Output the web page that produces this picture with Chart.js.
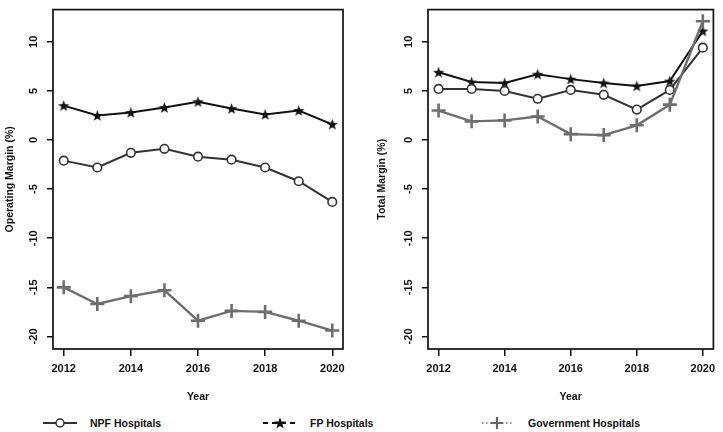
<!DOCTYPE html>
<html>
<head>
<meta charset="utf-8">
<script src="https://cdn.jsdelivr.net/npm/chart.js@4"></script>
<style>
  body { margin: 0; background: #fff; width: 723px; height: 432px; position: relative; overflow: hidden;
         font-family: "Liberation Sans", Arial, sans-serif; }
  canvas { position: absolute; top: 0; }
  #left { left: 0; }
  #right { left: 360px; }
  .leg { position: absolute; top: 416px; height: 14px; font-weight: bold; font-size: 10.5px; color: #111; line-height: 14px; }
  .leg svg { position: absolute; top: 0; }
</style>
</head>
<body>
<canvas id="left" width="360" height="410"></canvas>
<canvas id="right" width="363" height="410"></canvas>

<div class="leg" style="left:43px;width:140px">
  <svg width="34" height="14"><line x1="0" y1="7" x2="34" y2="7" stroke="#333" stroke-width="1.8"/><circle cx="17" cy="7" r="4" fill="#fff" stroke="#333" stroke-width="1.5"/></svg>
  <span style="position:absolute;left:47px">NPF Hospitals</span>
</div>
<div class="leg" style="left:263px;width:140px">
  <svg width="34" height="14"><line x1="0" y1="7" x2="34" y2="7" stroke="#111" stroke-width="1.8" stroke-dasharray="5,4"/><polygon id="legStar" fill="#111"/></svg>
  <span style="position:absolute;left:47px">FP Hospitals</span>
</div>
<div class="leg" style="left:482px;width:180px">
  <svg width="32" height="14"><line x1="0" y1="7" x2="32" y2="7" stroke="#777" stroke-width="1.4" stroke-dasharray="1.5,2.5"/><path d="M15 1 V13 M9 7 H21" stroke="#666" stroke-width="2.2"/></svg>
  <span style="position:absolute;left:46px">Government Hospitals</span>
</div>

<script>
const years = [2012, 2013, 2014, 2015, 2016, 2017, 2018, 2019, 2020];
const xTicks = [2012, 2014, 2016, 2018, 2020];
const yTicks = [-20, -15, -10, -5, 0, 5, 10];

// operating margin (%)
const opNPF = [-2.1, -2.8, -1.3, -0.9, -1.7, -2.0, -2.8, -4.2, -6.3];
const opFP  = [3.5, 2.5, 2.8, 3.3, 3.9, 3.2, 2.6, 3.0, 1.6];
const opGov = [-15.0, -16.7, -15.9, -15.3, -18.4, -17.4, -17.5, -18.4, -19.4];

// total margin (%)
const totNPF = [5.2, 5.2, 5.0, 4.2, 5.1, 4.6, 3.1, 5.1, 9.4];
const totFP  = [6.9, 5.9, 5.8, 6.7, 6.2, 5.8, 5.5, 6.0, 11.1];
const totGov = [3.0, 1.9, 2.0, 2.4, 0.6, 0.5, 1.5, 3.6, 12.1];

function starPoints(cx, cy, ro, ri) {
    let pts = [];
    for (let i = 0; i < 10; i++) {
        const r = i % 2 ? ri : ro;
        const a = -Math.PI / 2 + i * Math.PI / 5;
        pts.push([cx + r * Math.cos(a), cy + r * Math.sin(a)]);
    }
    return pts;
}

// filled star marker
const starImg = document.createElement('canvas');
starImg.width = 13; starImg.height = 13;
(function () {
    const c = starImg.getContext('2d');
    c.fillStyle = '#111';
    c.beginPath();
    starPoints(6.5, 7, 6, 2.4).forEach((p, i) => i ? c.lineTo(p[0], p[1]) : c.moveTo(p[0], p[1]));
    c.closePath();
    c.fill();
})();
document.getElementById('legStar').setAttribute('points',
    starPoints(17, 7.5, 6.2, 2.5).map(p => p.join(',')).join(' '));

const boxPlugin = {
    id: 'box',
    afterDraw(chart) {
        const {ctx, chartArea: a} = chart;
        ctx.save();
        ctx.strokeStyle = '#111';
        ctx.lineWidth = 1.7;
        ctx.strokeRect(a.left, a.top, a.right - a.left, a.bottom - a.top);
        // rotated y tick labels, R style
        const y = chart.scales.y;
        ctx.fillStyle = '#111';
        ctx.font = 'bold 11px "Liberation Sans", Arial, sans-serif';
        ctx.textAlign = 'center';
        ctx.textBaseline = 'middle';
        y.ticks.forEach(t => {
            ctx.save();
            ctx.translate(a.left - 19, y.getPixelForValue(t.value));
            ctx.rotate(-Math.PI / 2);
            ctx.fillText(String(t.value), 0, 0);
            ctx.restore();
        });
        ctx.restore();
    }
};

function toXY(vals) {
    return vals.map((v, i) => ({x: years[i], y: v}));
}

function makeChart(id, yTitle, npf, fp, gov, yWidth, titlePad, padRight) {
    return new Chart(document.getElementById(id), {
        type: 'line',
        data: {
            datasets: [{
                label: 'Government Hospitals',
                data: toXY(gov),
                borderColor: '#6e6e6e',
                borderWidth: 2.4,
                pointStyle: 'cross',
                pointRadius: 7,
                pointBorderColor: '#6e6e6e',
                pointBorderWidth: 2.6,
                tension: 0
            }, {
                label: 'NPF Hospitals',
                data: toXY(npf),
                borderColor: '#333',
                borderWidth: 2,
                pointStyle: 'circle',
                pointRadius: 4.3,
                pointBackgroundColor: '#fff',
                pointBorderColor: '#333',
                pointBorderWidth: 1.6,
                tension: 0
            }, {
                label: 'FP Hospitals',
                data: toXY(fp),
                borderColor: '#111',
                borderWidth: 2,
                pointStyle: starImg,
                tension: 0
            }]
        },
        options: {
            responsive: false,
            animation: false,
            devicePixelRatio: 1,
            clip: false,
            layout: { padding: { top: 5, right: padRight, left: 0, bottom: 0 } },
            plugins: { legend: { display: false }, tooltip: { enabled: false } },
            scales: {
                x: {
                    type: 'linear',
                    min: 2011.68,
                    max: 2020.32,
                    afterBuildTicks: (s) => { s.ticks = xTicks.map(v => ({value: v})); },
                    afterFit: (s) => { s.height = 61; },
                    border: { display: false },
                    grid: { drawOnChartArea: false, drawTicks: true, tickLength: 7, color: '#111', lineWidth: 1.5 },
                    ticks: {
                        color: '#111',
                        padding: 6,
                        maxRotation: 0,
                        font: { family: '"Liberation Sans", Arial, sans-serif', size: 11, weight: 'bold' },
                        callback: (v) => String(v)
                    },
                    title: {
                        display: true,
                        text: 'Year',
                        color: '#111',
                        padding: { top: 0, bottom: 7 },
                        font: { family: '"Liberation Sans", Arial, sans-serif', size: 10.5, weight: 'bold' }
                    }
                },
                y: {
                    min: -21.28,
                    max: 13.28,
                    afterBuildTicks: (s) => { s.ticks = yTicks.map(v => ({value: v})); },
                    afterFit: (s) => { s.width = yWidth; },
                    border: { display: false },
                    grid: { drawOnChartArea: false, drawTicks: true, tickLength: 6, color: '#111', lineWidth: 1.5 },
                    ticks: { display: false },
                    title: {
                        display: true,
                        text: yTitle,
                        color: '#111',
                        padding: { top: titlePad, bottom: 0 },
                        font: { family: '"Liberation Sans", Arial, sans-serif', size: 10.5, weight: 'bold' }
                    }
                }
            }
        },
        plugins: [boxPlugin]
    });
}

makeChart('left', 'Operating Margin (%)', opNPF, opFP, opGov, 53, 4, 17);
makeChart('right', 'Total Margin (%)', totNPF, totFP, totGov, 68, 16, 1);
</script>
</body>
</html>
